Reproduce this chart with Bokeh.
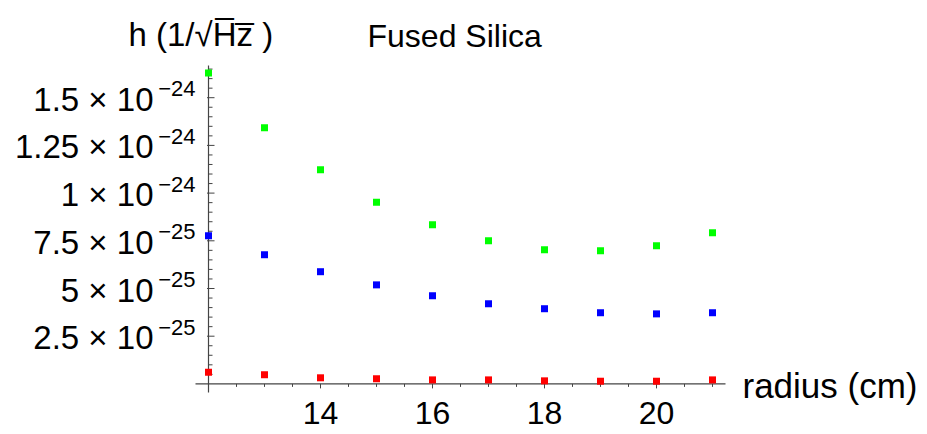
from bokeh.plotting import figure
from bokeh.models import Range1d, ColumnDataSource
from bokeh.embed import file_html
from bokeh.resources import INLINE
from bokeh.core.properties import value

# ---- data ----
radius = [12, 13, 14, 15, 16, 17, 18, 19, 20, 21]
green_h = [16.30e-25, 13.42e-25, 11.22e-25, 9.52e-25, 8.34e-25, 7.50e-25, 7.03e-25, 6.98e-25, 7.24e-25, 7.92e-25]
blue_h = [7.76e-25, 6.77e-25, 5.88e-25, 5.19e-25, 4.62e-25, 4.20e-25, 3.94e-25, 3.73e-25, 3.67e-25, 3.73e-25]
red_h = [0.61e-25, 0.48e-25, 0.32e-25, 0.27e-25, 0.21e-25, 0.21e-25, 0.16e-25, 0.14e-25, 0.14e-25, 0.21e-25]

x_ticks = [14, 16, 18, 20]
x_tick_labels = ["14", "16", "18", "20"]
y_ticks = [2.5e-25, 5e-25, 7.5e-25, 1e-24, 1.25e-24, 1.5e-24]
y_tick_base = ["2.5 \u00d7 10", "5 \u00d7 10", "7.5 \u00d7 10",
               "1 \u00d7 10", "1.25 \u00d7 10", "1.5 \u00d7 10"]
y_tick_exp = ["\u221225", "\u221225", "\u221225", "\u221224", "\u221224", "\u221224"]
x_minor_step = 0.5
y_minor_step = 0.5e-25

title_text = "Fused Silica"
ylabel_text = "h (1/\u221aH\u0305z\u0305 )"
xlabel_text = "radius (cm)"

# ---- layout (pixels) ----
W, H = 927, 434
ORIGIN_PX_X, PX_PER_X = 208.0, 56.0
ORIGIN_PX_Y, PX_PER_Y = 383.4, 19.08e25   # pixels per unit of h

x_start = 12 - ORIGIN_PX_X / PX_PER_X
x_end = x_start + W / PX_PER_X
y_end = ORIGIN_PX_Y / PX_PER_Y
y_start = -(H - ORIGIN_PX_Y) / PX_PER_Y

def dx(px):
    return px / PX_PER_X

def dy(px):
    return px / PX_PER_Y

def xpx(px):
    return x_start + px / PX_PER_X

def ypx(py):
    return y_end - py / PX_PER_Y

p = figure(width=W, height=H, x_range=Range1d(x_start, x_end), y_range=Range1d(y_start, y_end),
           x_axis_type=None, y_axis_type=None, toolbar_location=None, output_backend="svg",
           min_border=0, outline_line_color=None)
p.grid.visible = False

FONT = value("Liberation Sans")
AXIS_COLOR = "#444444"

# axis extents
ax_x0, ax_x1 = xpx(195), xpx(725)
ay_y0, ay_y1 = ypx(392), ypx(65)
x_origin, y_origin = radius[0], 0.0

p.segment(x0=[ax_x0], y0=[y_origin], x1=[ax_x1], y1=[y_origin], line_color=AXIS_COLOR, line_width=1.2)
p.segment(x0=[x_origin], y0=[ay_y0], x1=[x_origin], y1=[ay_y1], line_color=AXIS_COLOR, line_width=1.2)

# x ticks
xm = []
v = x_origin + x_minor_step
while v <= ax_x1 + 1e-9:
    if all(abs(v - t) > 1e-9 for t in x_ticks):
        xm.append(v)
    v += x_minor_step
p.segment(x0=xm, y0=[0] * len(xm), x1=xm, y1=[-dy(3)] * len(xm), line_color=AXIS_COLOR, line_width=1)
p.segment(x0=x_ticks, y0=[0] * len(x_ticks), x1=x_ticks, y1=[-dy(4.5)] * len(x_ticks), line_color=AXIS_COLOR, line_width=1)

# y ticks
ym = []
k = 1
while k * y_minor_step <= ay_y1:
    v = k * y_minor_step
    if all(abs(v - t) > 1e-30 for t in y_ticks):
        ym.append(v)
    k += 1
p.segment(x0=[x_origin] * len(ym), y0=ym, x1=[x_origin + dx(4)] * len(ym), y1=ym, line_color=AXIS_COLOR, line_width=1)
p.segment(x0=[x_origin - dx(1.5)] * len(y_ticks), y0=y_ticks, x1=[x_origin + dx(6)] * len(y_ticks), y1=y_ticks,
          line_color=AXIS_COLOR, line_width=1)

# tick labels
p.text(x=x_ticks, y=[0] * len(x_ticks), text=x_tick_labels, text_font=FONT, text_font_size="32px",
       text_align="center", text_baseline="middle", y_offset=29, text_color="black")
p.text(x=[x_origin] * len(y_ticks), y=y_ticks, text=y_tick_base, text_font=FONT, text_font_size="33px",
       text_align="right", text_baseline="middle", x_offset=-55, y_offset=1.5, text_color="black")
p.text(x=[x_origin] * len(y_ticks), y=y_ticks, text=y_tick_exp, text_font=FONT, text_font_size="22px",
       text_align="right", text_baseline="middle", x_offset=-13, y_offset=-9, text_color="black")

# axis labels / title
p.text(x=[ax_x1], y=[0], text=[xlabel_text], text_font=FONT, text_font_size="35px",
       text_align="left", text_baseline="middle", x_offset=17, y_offset=1.5, text_color="black")
p.text(x=[xpx(128)], y=[ypx(33.5)], text=[ylabel_text], text_font=FONT, text_font_size="33px",
       text_align="left", text_baseline="middle", text_color="black")
p.text(x=[xpx(367)], y=[ypx(35.5)], text=[title_text], text_font=FONT, text_font_size="32px",
       text_align="left", text_baseline="middle", text_color="black")

# data points
for vals, col in ((green_h, "#00ff00"), (blue_h, "#0000ff"), (red_h, "#ff0000")):
    src = ColumnDataSource(dict(x=radius, y=vals))
    p.scatter("x", "y", source=src, marker="square", size=7, fill_color=col, line_color=None)

open("out.html", "w").write(file_html(p, INLINE))
